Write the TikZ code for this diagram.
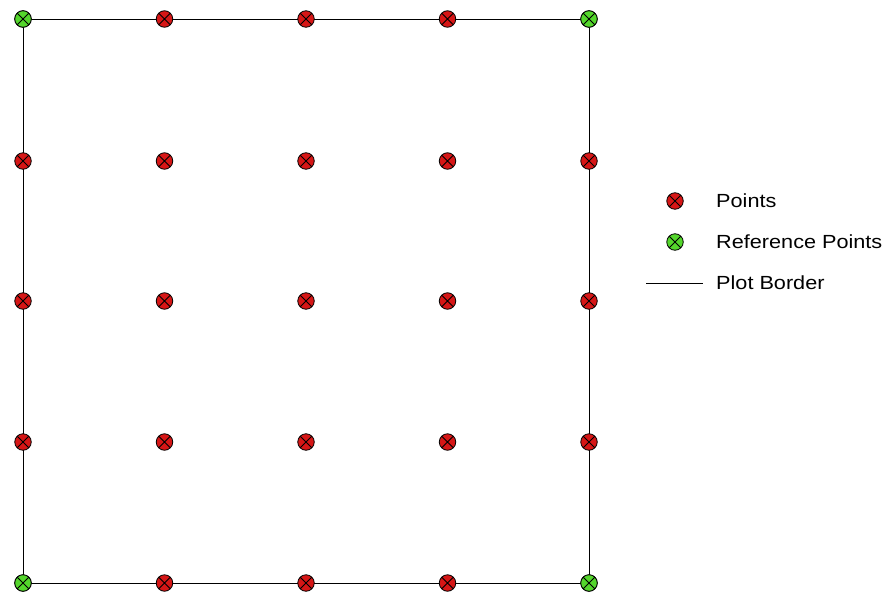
\documentclass[tikz,border=0pt]{standalone}
\usepackage{fontspec}
\setmainfont{Liberation Sans}
\definecolor{ptred}{RGB}{214,22,22}
\definecolor{ptgreen}{RGB}{84,214,44}
\tikzset{
  marker/.style={circle, draw=black, line width=0.8pt, minimum size=16.5pt, inner sep=0pt,
    path picture={\draw[black, line width=1pt]
      ([shift={(-6pt,-6pt)}]path picture bounding box.center) -- ([shift={(6pt,6pt)}]path picture bounding box.center)
      ([shift={(-6pt,6pt)}]path picture bounding box.center) -- ([shift={(6pt,-6pt)}]path picture bounding box.center);}},
  pt/.style={marker, fill=ptred},
  refpt/.style={marker, fill=ptgreen},
  border/.style={black, line width=0.9pt},
  legtext/.style={anchor=base west, inner sep=0pt, font=\fontsize{19pt}{22pt}\selectfont},
}
\newcommand{\legstr}[1]{\scalebox{1.14}[1]{#1}}
\begin{document}
\begin{tikzpicture}[x=1pt,y=-1pt]
\useasboundingbox (0,0) rectangle (886,597);
% border
\coordinate (c00) at (23,19);
\coordinate (c40) at (589,19);
\coordinate (c44) at (589,583);
\coordinate (c04) at (23,583);
\draw[border] (c00) -- (c40) -- (c44) -- (c04) -- cycle;
% points
\foreach \i/\x in {0/23,1/164.5,2/306,3/447.5,4/589}{
  \foreach \j/\y in {0/19,1/161,2/301,3/442,4/583}{
    \node[pt] (p\i\j) at (\x,\y) {};
  }
}
\node[refpt] (r00) at (23,19) {};
\node[refpt] (r40) at (589,19) {};
\node[refpt] (r04) at (23,583) {};
\node[refpt] (r44) at (589,583) {};
% legend
\node[pt] (lp) at (675,201) {};
\node[legtext] (lpt) at (716,207.8) {\legstr{Points}};
\node[refpt] (lr) at (675,242) {};
\node[legtext] (lrt) at (716,248.8) {\legstr{Reference Points}};
\coordinate (lb1) at (646,283);
\coordinate (lb2) at (703,283);
\draw[border] (lb1) -- (lb2);
\node[legtext] (lbt) at (716,289.8) {\legstr{Plot Border}};
\end{tikzpicture}
\end{document}
